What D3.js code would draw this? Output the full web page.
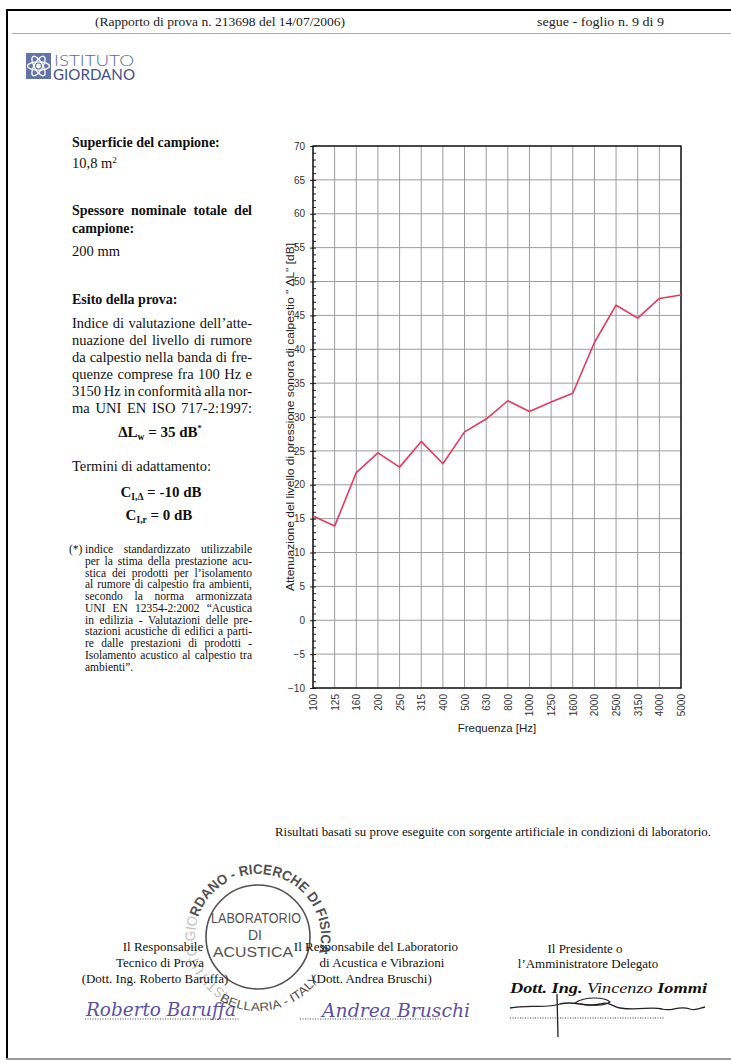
<!DOCTYPE html>
<html><head><meta charset="utf-8">
<script src="https://cdn.jsdelivr.net/npm/d3@7"></script>
<style>html,body{margin:0;padding:0;background:#fff;}svg{display:block;}</style>
</head><body>
<script>
// ---------- DATA ----------
const freqLabels = ["100","125","160","200","250","315","400","500","630","800","1000","1250","1600","2000","2500","3150","4000","5000"];
const attenuation = [15.4, 13.9, 21.8, 24.7, 22.6, 26.4, 23.1, 27.8, 29.7, 32.4, 30.8, 32.2, 33.5, 41.0, 46.5, 44.6, 47.5, 48.0];
const yTickValues = [-10,-5,0,5,10,15,20,25,30,35,40,45,50,55,60,65,70];

const W = 731, H = 1064;
const serif = "'Liberation Serif','Times New Roman',serif";
const sans = "'Liberation Sans',Arial,sans-serif";

const svg = d3.select("body").append("svg").attr("width", W).attr("height", H);
svg.append("rect").attr("width", W).attr("height", H).attr("fill", "#fff");

// ---------- PAGE FRAME ----------
svg.append("line").attr("x1", 6).attr("x2", W).attr("y1", 10).attr("y2", 10).attr("stroke", "#000").attr("stroke-width", 2);
svg.append("line").attr("x1", 7).attr("x2", 7).attr("y1", 9).attr("y2", 1059).attr("stroke", "#000").attr("stroke-width", 2);
svg.append("line").attr("x1", 6).attr("x2", W).attr("y1", 1059).attr("y2", 1059).attr("stroke", "#9a9a9a").attr("stroke-width", 2);
svg.append("line").attr("x1", 12).attr("x2", W).attr("y1", 33.5).attr("y2", 33.5).attr("stroke", "#aaa").attr("stroke-width", 1);

// header
svg.append("text").attr("x", 95).attr("y", 26).attr("font-family", serif).attr("font-size", 13)
  .attr("textLength", 250).attr("lengthAdjust", "spacingAndGlyphs").attr("fill", "#222")
  .text("(Rapporto di prova n. 213698 del 14/07/2006)");
svg.append("text").attr("x", 537).attr("y", 26).attr("font-family", serif).attr("font-size", 13)
  .attr("textLength", 127).attr("lengthAdjust", "spacingAndGlyphs").attr("fill", "#222")
  .text("segue - foglio n. 9 di 9");

// logo
const logo = svg.append("g").attr("transform", "translate(26,53)");
logo.append("rect").attr("width", 25).attr("height", 26).attr("fill", "#6173a8");
[0, 60, 120].forEach(a => logo.append("ellipse").attr("cx", 12.5).attr("cy", 13).attr("rx", 11).attr("ry", 4.2)
  .attr("transform", `rotate(${a},12.5,13)`).attr("fill", "none").attr("stroke", "#fff").attr("stroke-width", 1.3));
logo.append("circle").attr("cx", 12.5).attr("cy", 13).attr("r", 2.4).attr("fill", "#fff");
svg.append("text").attr("x", 54).attr("y", 65.5).attr("font-family", "Lato,'Open Sans',sans-serif").attr("font-weight", 300)
  .attr("font-size", 15).attr("fill", "#5a6a9e").attr("textLength", 80).attr("lengthAdjust", "spacingAndGlyphs").text("ISTITUTO");
svg.append("text").attr("x", 53).attr("y", 79.5).attr("font-family", "Lato,'Open Sans',sans-serif")
  .attr("font-size", 15.5).attr("fill", "#3e4f8a").attr("textLength", 82).attr("lengthAdjust", "spacingAndGlyphs").text("GIORDANO");

// ---------- LEFT TEXT ----------
const left = svg.append("g").attr("font-family", serif).attr("fill", "#111");
function line(g, words, x, y, width, size, weight, justify) {
  const parts = words.split(" ");
  const nodes = parts.map(w => g.append("text").attr("y", y).attr("font-size", size).attr("font-weight", weight || "normal").text(w));
  const widths = nodes.map(n => n.node().getComputedTextLength());
  const total = d3.sum(widths);
  const gap = (justify && parts.length > 1) ? (width - total) / (parts.length - 1) : size * 0.25;
  let cx = x;
  nodes.forEach((n, i) => { n.attr("x", cx); cx += widths[i] + gap; });
}
const BODY = 14.5, HEAD = 14;
left.append("text").attr("x", 72).attr("y", 147).attr("font-size", HEAD).attr("font-weight", "bold").text("Superficie del campione:");
const t108 = left.append("text").attr("x", 72).attr("y", 168).attr("font-size", BODY);
t108.append("tspan").text("10,8 m");
t108.append("tspan").attr("font-size", 9).attr("dy", -5.5).text("2");

line(left, "Spessore nominale totale del", 72, 215, 180, HEAD, "bold", true);
left.append("text").attr("x", 72).attr("y", 233).attr("font-size", HEAD).attr("font-weight", "bold").text("campione:");
left.append("text").attr("x", 72).attr("y", 256).attr("font-size", BODY).text("200 mm");
left.append("text").attr("x", 72).attr("y", 304).attr("font-size", HEAD).attr("font-weight", "bold").text("Esito della prova:");

const para = [
  "Indice di valutazione dell’atte-",
  "nuazione del livello di rumore",
  "da calpestio nella banda di fre-",
  "quenze comprese fra 100 Hz e",
  "3150 Hz in conformità alla nor-",
  "ma UNI EN ISO 717-2:1997:"
];
para.forEach((p, i) => line(left, p, 72, 327.5 + i * 17, 180, BODY, "normal", true));

// ΔLw
const dl = left.append("text").attr("x", 160).attr("y", 437).attr("text-anchor", "middle").attr("font-size", 15).attr("font-weight", "bold");
dl.append("tspan").text("ΔL");
dl.append("tspan").attr("font-size", 9.5).attr("dy", 3).text("w");
dl.append("tspan").attr("dy", -3).text(" = 35 dB");
dl.append("tspan").attr("font-size", 8.5).attr("dy", -6).text("*");

left.append("text").attr("x", 72).attr("y", 471).attr("font-size", BODY).text("Termini di adattamento:");

const c1 = left.append("text").attr("x", 161).attr("y", 497).attr("text-anchor", "middle").attr("font-size", 15).attr("font-weight", "bold");
c1.append("tspan").text("C");
c1.append("tspan").attr("font-size", 9.5).attr("dy", 3).text("I,Δ");
c1.append("tspan").attr("dy", -3).text(" = -10 dB");
const c2 = left.append("text").attr("x", 159).attr("y", 520).attr("text-anchor", "middle").attr("font-size", 15).attr("font-weight", "bold");
c2.append("tspan").text("C");
c2.append("tspan").attr("font-size", 9.5).attr("dy", 3).text("I,r");
c2.append("tspan").attr("dy", -3).text(" = 0 dB");

const foot = [
  "indice standardizzato utilizzabile",
  "per la stima della prestazione acu-",
  "stica dei prodotti per l’isolamento",
  "al rumore di calpestio fra ambienti,",
  "secondo la norma armonizzata",
  "UNI EN 12354-2:2002 “Acustica",
  "in edilizia - Valutazioni delle pre-",
  "stazioni acustiche di edifici a parti-",
  "re dalle prestazioni di prodotti -",
  "Isolamento acustico al calpestio tra",
  "ambienti”."
];
left.append("text").attr("x", 69).attr("y", 553).attr("font-size", 11.5).text("(*)");
foot.forEach((f, i) => line(left, f, 85, 553 + i * 11.75, 167, 11.5, "normal", i < foot.length - 1));

// ---------- CHART ----------
const m = { l: 313, r: 681, t: 146, b: 688 };
const x = d3.scalePoint().domain(freqLabels).range([m.l, m.r]);
const y = d3.scaleLinear().domain([-10, 70]).range([m.b, m.t]);
const chart = svg.append("g");

chart.append("g").selectAll("line").data(yTickValues).join("line")
  .attr("x1", m.l).attr("x2", m.r).attr("y1", d => y(d)).attr("y2", d => y(d))
  .attr("stroke", "#9c9c9c").attr("stroke-width", 1);
chart.append("g").selectAll("line").data(freqLabels).join("line")
  .attr("x1", d => x(d)).attr("x2", d => x(d)).attr("y1", m.t).attr("y2", m.b)
  .attr("stroke", "#9c9c9c").attr("stroke-width", 1);

// y axis labels + major ticks
const yAx = chart.append("g").attr("transform", `translate(${m.l},0)`)
  .call(d3.axisLeft(y).tickValues(yTickValues).tickSize(3).tickPadding(5));
yAx.select(".domain").remove();
yAx.selectAll("text").attr("font-family", sans).attr("font-size", 10).attr("fill", "#333");
yAx.selectAll("line").attr("stroke", "#222");
// minor ticks
const yMin = chart.append("g").attr("transform", `translate(${m.l},0)`)
  .call(d3.axisLeft(y).tickValues(d3.range(-10, 71, 1)).tickSize(-3).tickFormat(""));
yMin.select(".domain").remove();
yMin.selectAll("line").attr("stroke", "#222").attr("stroke-width", 1);

// x axis labels
const xAx = chart.append("g").attr("transform", `translate(0,${m.b})`)
  .call(d3.axisBottom(x).tickSize(0));
xAx.select(".domain").remove();
xAx.selectAll("text").attr("font-family", sans).attr("font-size", 10).attr("fill", "#333")
  .attr("transform", "rotate(-90)").attr("x", -6).attr("y", 0).attr("dy", "0.35em").attr("text-anchor", "end");

// frame
chart.append("rect").attr("x", m.l).attr("y", m.t).attr("width", m.r - m.l).attr("height", m.b - m.t)
  .attr("fill", "none").attr("stroke", "#111").attr("stroke-width", 1.4);

// data line
chart.append("path").datum(attenuation)
  .attr("d", d3.line().x((d, i) => x(freqLabels[i])).y(d => y(d)))
  .attr("fill", "none").attr("stroke", "#e2395c").attr("stroke-width", 1.6).attr("stroke-linejoin", "round");

// axis titles
chart.append("text").attr("transform", "translate(294,417) rotate(-90)").attr("text-anchor", "middle")
  .attr("font-family", sans).attr("font-size", 11.5).attr("fill", "#222")
  .attr("textLength", 348).attr("lengthAdjust", "spacingAndGlyphs")
  .text("Attenuazione del livello di pressione sonora di calpestio \" ΔL\" [dB]");
chart.append("text").attr("x", 497).attr("y", 732).attr("text-anchor", "middle")
  .attr("font-family", sans).attr("font-size", 11.5).attr("fill", "#222").text("Frequenza [Hz]");

// ---------- BOTTOM ----------
const bot = svg.append("g").attr("font-family", serif).attr("fill", "#111");
bot.append("text").attr("x", 275).attr("y", 836).attr("font-size", 11.5).attr("textLength", 436).attr("lengthAdjust", "spacingAndGlyphs")
  .text("Risultati basati su prove eseguite con sorgente artificiale in condizioni di laboratorio.");

// stamp
const st = svg.append("g").attr("transform", "translate(258,937)").attr("opacity", 0.85);
st.append("circle").attr("r", 52).attr("fill", "none").attr("stroke", "#333").attr("stroke-width", 1.6);
function pt(r, deg) { const a = deg * Math.PI / 180; return [r * Math.cos(a), r * Math.sin(a)]; }
const rt = 63, [ax0, ay0] = pt(rt, 118), [ax1, ay1] = pt(rt, 372);
st.append("path").attr("id", "arcTop").attr("fill", "none")
  .attr("d", `M${ax0},${ay0} A${rt},${rt} 0 1 1 ${ax1},${ay1}`);
const rb = 74, [bx0, by0] = pt(rb, 128), [bx1, by1] = pt(rb, 28);
st.append("path").attr("id", "arcBot").attr("fill", "none")
  .attr("d", `M${bx0},${by0} A${rb},${rb} 0 0 0 ${bx1},${by1}`);
const topT = st.append("text").attr("font-family", sans).attr("font-weight", "bold").attr("font-size", 14).attr("fill", "#333")
  .append("textPath").attr("href", "#arcTop").attr("textLength", 282).attr("lengthAdjust", "spacingAndGlyphs");
topT.append("tspan").attr("fill-opacity", 0.4).attr("font-weight", "normal").text("ISTITUTO GIO");
topT.append("tspan").text("RDANO - RICERCHE DI FISICA");
st.append("text").attr("font-family", sans).attr("font-size", 12).attr("fill", "#333")
  .append("textPath").attr("href", "#arcBot").attr("startOffset", "50%").attr("text-anchor", "middle")
  .attr("textLength", 112).attr("lengthAdjust", "spacingAndGlyphs").text("BELLARIA - ITALY");
st.append("text").attr("y", -14).attr("x", -2).attr("text-anchor", "middle").attr("font-family", sans).attr("font-size", 15).attr("fill", "#333")
  .attr("textLength", 90).attr("lengthAdjust", "spacingAndGlyphs").text("LABORATORIO");
st.append("text").attr("y", 3).attr("x", -3).attr("text-anchor", "middle").attr("font-family", sans).attr("font-size", 14).attr("fill", "#333").text("DI");
st.append("text").attr("y", 20).attr("x", -5).attr("text-anchor", "middle").attr("font-family", sans).attr("font-size", 14.5).attr("fill", "#333")
  .attr("textLength", 80).attr("lengthAdjust", "spacingAndGlyphs").text("ACUSTICA");

const sig = [
  { t: "Il Responsabile", x: 163, y: 951 },
  { t: "Tecnico di Prova", x: 160, y: 967 },
  { t: "(Dott. Ing. Roberto Baruffa)", x: 155, y: 983 },
  { t: "Il Responsabile del Laboratorio", x: 376, y: 951 },
  { t: "di Acustica e Vibrazioni", x: 382, y: 967 },
  { t: "(Dott. Andrea Bruschi)", x: 372, y: 983 },
  { t: "Il Presidente o", x: 585, y: 953 },
  { t: "l’Amministratore Delegato", x: 588, y: 968 }
];
sig.forEach(s => bot.append("text").attr("x", s.x).attr("y", s.y).attr("text-anchor", "middle").attr("font-size", 13).text(s.t));

const iom = bot.append("text").attr("x", 510).attr("y", 993).attr("font-size", 15.5).attr("font-style", "italic")
  .attr("textLength", 197).attr("lengthAdjust", "spacingAndGlyphs");
iom.append("tspan").attr("font-weight", "bold").text("Dott. Ing. ");
iom.append("tspan").text("Vincenzo ");
iom.append("tspan").attr("font-weight", "bold").text("Iommi");

// dotted signature lines
[[85, 240, 1019], [300, 442, 1019], [510, 665, 1018]].forEach(d =>
  bot.append("line").attr("x1", d[0]).attr("x2", d[1]).attr("y1", d[2]).attr("y2", d[2])
    .attr("stroke", "#444").attr("stroke-width", 1).attr("stroke-dasharray", "1,1.5"));

// handwritten signatures (approximation)
bot.append("text").attr("x", 86).attr("y", 1016).attr("font-family", "'DejaVu Serif',serif").attr("font-style", "italic")
  .attr("font-size", 18).attr("fill", "#5a4fa6").attr("textLength", 150).attr("lengthAdjust", "spacingAndGlyphs").text("Roberto Baruffa");
bot.append("text").attr("x", 322).attr("y", 1017).attr("font-family", "'DejaVu Serif',serif").attr("font-style", "italic")
  .attr("font-size", 18).attr("fill", "#5a4fa6").attr("textLength", 148).attr("lengthAdjust", "spacingAndGlyphs").text("Andrea Bruschi");
bot.append("path").attr("fill", "none").attr("stroke", "#222").attr("stroke-width", 1.3)
  .attr("d", "M510,1008 C530,1004 545,1009 560,1004 C575,1000 585,1008 600,1004 C610,1001 612,1007 620,1008 C640,1011 650,1006 662,1009 C672,1012 678,1005 690,1009 C696,1011 700,1008 705,1007");
bot.append("path").attr("fill", "none").attr("stroke", "#222").attr("stroke-width", 1.3)
  .attr("d", "M557,994 L558,1037");
bot.append("path").attr("fill", "none").attr("stroke", "#222").attr("stroke-width", 1.1)
  .attr("d", "M575,1003 C585,996 605,997 610,1002 C605,1006 590,1006 580,1004");
</script>
</body></html>
